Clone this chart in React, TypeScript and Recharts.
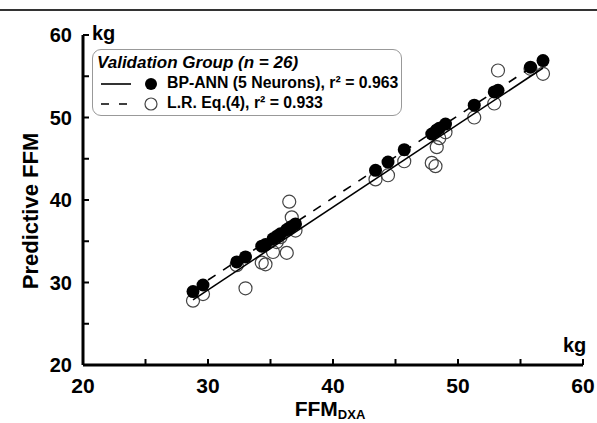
import React from "react";
import { ScatterChart, Scatter, XAxis, YAxis } from "recharts";

// FFM measured by DXA (kg), one entry per subject
const dxa = [
  28.8, 29.6, 32.3, 33.0, 34.3, 34.6, 35.2, 35.5, 35.8, 36.3, 36.5, 36.7, 37.0,
  43.4, 44.4, 45.7, 47.9, 48.2, 48.3, 48.5, 49.0, 51.3, 52.9, 53.2, 55.8, 56.8,
];
// BP-ANN predicted FFM
const annPred = [
  28.9, 29.7, 32.5, 33.1, 34.4, 34.6, 35.3, 35.6, 35.9, 36.4, 36.6, 36.8, 37.1,
  43.6, 44.6, 46.1, 48.0, 48.3, 48.5, 48.7, 49.2, 51.5, 53.1, 53.3, 56.1, 56.9,
];
// L.R. Eq.(4) predicted FFM
const lrPred = [
  27.8, 28.6, 32.1, 29.3, 32.4, 32.2, 33.7, 34.9, 35.5, 33.6, 39.8, 37.9, 36.3,
  42.5, 43.0, 44.7, 44.5, 44.1, 46.4, 47.5, 48.2, 50.0, 51.7, 55.7, 55.9, 55.3,
];
// regression line end points
const annLineX = [28.8, 56.8];
const annLineY = [27.9, 56.0];
const lrLineX = [28.8, 56.8];
const lrLineY = [29.1, 57.0];

const axisTicks = [20, 25, 30, 35, 40, 45, 50, 55, 60];
const legendTitle = "Validation Group";
const legendN = "26";
const annLabel = "BP-ANN (5 Neurons), r² = 0.963";
const lrLabel = "L.R. Eq.(4), r² = 0.933";

const FONT = "'Liberation Sans', Arial, sans-serif";

const annData = dxa.map((x, i) => ({ x, y: annPred[i] }));
const lrData = dxa.map((x, i) => ({ x, y: lrPred[i] }));
const annLine = annLineX.map((x, i) => ({ x, y: annLineY[i] }));
const lrLine = lrLineX.map((x, i) => ({ x, y: lrLineY[i] }));

const XTick = (props: any) => {
  const { x, y, payload } = props;
  const major = payload.value % 10 === 0;
  return (
    <g>
      <line x1={x} x2={x} y1={y} y2={y - 6} stroke="#000" strokeWidth={2} />
      {major && (
        <text x={x} y={y + 28} textAnchor="middle" fontFamily={FONT} fontWeight="bold" fontSize={21} fill="#000">
          {payload.value}
        </text>
      )}
    </g>
  );
};

const YTick = (props: any) => {
  const { x, y, payload } = props;
  const major = payload.value % 10 === 0;
  return (
    <g>
      <line x1={x} x2={x + 6} y1={y} y2={y} stroke="#000" strokeWidth={2} />
      {major && (
        <text x={x - 11} y={y + 7} textAnchor="end" fontFamily={FONT} fontWeight="bold" fontSize={20} fill="#000">
          {payload.value}
        </text>
      )}
    </g>
  );
};

const FilledDot = (props: any) => <circle cx={props.cx} cy={props.cy} r={6.5} fill="#000" />;
const OpenDot = (props: any) => (
  <circle cx={props.cx} cy={props.cy} r={6.5} fill="none" stroke="#444" strokeWidth={1.2} />
);
const NoDot = () => <g />;

export default function App() {
  return (
    <div style={{ position: "absolute", left: 0, top: 0, width: 597, height: 423, background: "#fff" }}>
      <div style={{ position: "absolute", left: 0, top: 9, width: 597, height: 2, background: "#333" }} />
      <ScatterChart width={597} height={423} margin={{ top: 35, right: 14, bottom: 0, left: 0 }}>
        <XAxis
          type="number"
          dataKey="x"
          domain={[20, 60]}
          ticks={axisTicks}
          interval={0}
          height={58}
          tickSize={0}
          tickMargin={0}
          tick={<XTick />}
          axisLine={{ stroke: "#000", strokeWidth: 3 }}
          allowDataOverflow
        />
        <YAxis
          type="number"
          dataKey="y"
          domain={[20, 60]}
          ticks={axisTicks}
          interval={0}
          width={83}
          tickSize={0}
          tickMargin={0}
          tick={<YTick />}
          axisLine={{ stroke: "#000", strokeWidth: 3 }}
          allowDataOverflow
        />
        <Scatter data={lrData} shape={<OpenDot />} isAnimationActive={false} />
        <Scatter data={annData} shape={<FilledDot />} isAnimationActive={false} />
        <Scatter
          data={annLine}
          shape={<NoDot />}
          line={{ stroke: "#000", strokeWidth: 1.6 }}
          isAnimationActive={false}
        />
        <Scatter
          data={lrLine}
          shape={<NoDot />}
          line={{ stroke: "#000", strokeWidth: 1.6, strokeDasharray: "9 9" }}
          isAnimationActive={false}
        />
        <text x={92} y={40} fontFamily={FONT} fontWeight="bold" fontSize={20} fill="#000">kg</text>
        <text x={563} y={352} fontFamily={FONT} fontWeight="bold" fontSize={20} fill="#000">kg</text>
        <text
          x={38}
          y={211}
          transform="rotate(-90 38 211)"
          textAnchor="middle"
          fontFamily={FONT}
          fontWeight="bold"
          fontSize={22}
          fill="#000"
        >
          Predictive FFM
        </text>
        <text x={330} y={416} textAnchor="middle" fontFamily={FONT} fontWeight="bold" fontSize={21} fill="#000">
          FFM<tspan fontSize={13} dy={3}>DXA</tspan>
        </text>
      </ScatterChart>
      <div
        style={{
          position: "absolute",
          left: 92,
          top: 49,
          width: 310,
          height: 67,
          border: "1px solid #999",
          borderRadius: 9,
          boxSizing: "border-box",
          fontFamily: FONT,
          fontWeight: "bold",
          color: "#000",
          background: "#fff",
        }}
      >
        <div style={{ position: "absolute", left: 4, top: 3, fontSize: 17, fontStyle: "italic", whiteSpace: "nowrap" }}>
          {legendTitle} (<span>n</span> = {legendN})
        </div>
        <svg style={{ position: "absolute", left: 0, top: 23 }} width={80} height={42}>
          <line x1={8} x2={38} y1={11} y2={11} stroke="#000" strokeWidth={1.6} />
          <circle cx={58} cy={11} r={6} fill="#000" />
          <line x1={8} x2={38} y1={31} y2={31} stroke="#000" strokeWidth={1.6} strokeDasharray="8 10" />
          <circle cx={58} cy={31} r={6} fill="none" stroke="#444" strokeWidth={1.2} />
        </svg>
        <div style={{ position: "absolute", left: 74, top: 24, fontSize: 15.8, whiteSpace: "nowrap" }}>{annLabel}</div>
        <div style={{ position: "absolute", left: 74, top: 44, fontSize: 15.8, whiteSpace: "nowrap" }}>{lrLabel}</div>
      </div>
    </div>
  );
}
